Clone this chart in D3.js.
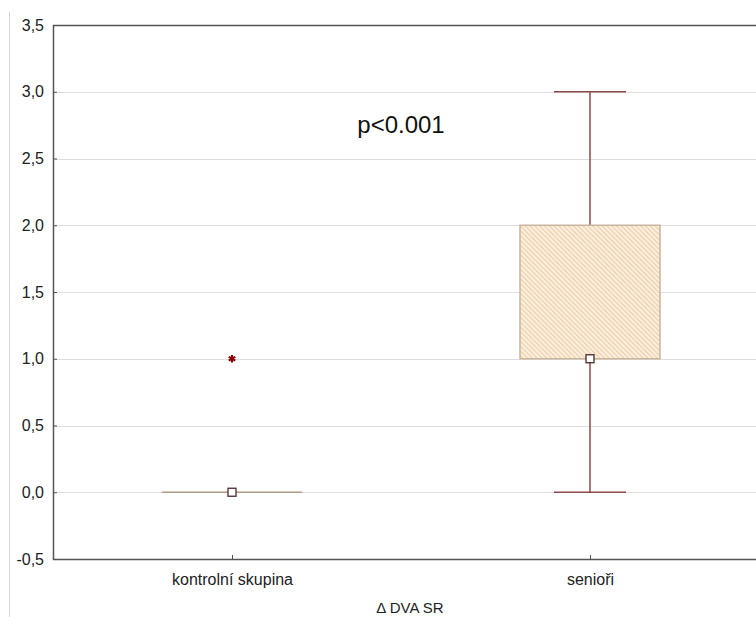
<!DOCTYPE html>
<html>
<head>
<meta charset="utf-8">
<script src="https://cdn.jsdelivr.net/npm/d3@7"></script>
<style>
  body { margin: 0; background: #fff; }
  svg { display: block; font-family: "Liberation Sans", Arial, sans-serif; }
</style>
</head>
<body>
<div id="chart"></div>
<script>
// data
var groups = ["kontrolní skupina", "senioři"];
var mins = [0, 0];
var q1s = [0, 1];
var medians = [0, 1];
var q3s = [0, 2];
var maxs = [0, 3];
var outliers = [[1], []];
var yTicks = [-0.5, 0, 0.5, 1, 1.5, 2, 2.5, 3, 3.5];
var note = "p<0.001";
var xTitle = "\u0394 DVA SR";

var width = 756, height = 617;
var plotL = 53, plotT = 25, plotB = 559, plotR = 769;

var svg = d3.select("#chart").append("svg")
    .attr("width", width)
    .attr("height", height);

var defs = svg.append("defs");
var pat = defs.append("pattern")
    .attr("id", "hatch")
    .attr("patternUnits", "userSpaceOnUse")
    .attr("width", 3.4).attr("height", 3.4)
    .attr("patternTransform", "rotate(-45)");
pat.append("rect").attr("width", 3.4).attr("height", 3.4).attr("fill", "#fcf0e0");
pat.append("rect").attr("width", 1.6).attr("height", 3.4).attr("fill", "#f0d6b6");

var x = d3.scalePoint().domain(groups).range([plotL, plotR]).padding(0.5);
var y = d3.scaleLinear().domain([-0.5, 3.5]).range([plotB, plotT]);

// faint frame line at the far left
svg.append("line")
    .attr("x1", 9.5).attr("x2", 9.5)
    .attr("y1", 12).attr("y2", height)
    .attr("stroke", "#d4d4d4");

// grid
svg.append("g").selectAll("line")
    .data(yTicks.slice(1, -1))
  .enter().append("line")
    .attr("x1", plotL).attr("x2", width)
    .attr("y1", function(d) { return Math.round(y(d)) + 0.5; })
    .attr("y2", function(d) { return Math.round(y(d)) + 0.5; })
    .attr("stroke", "#dedede")
    .attr("stroke-width", 1.2);

// axes
var yAxis = d3.axisLeft(y).tickValues(yTicks).tickSize(-4).tickPadding(9)
    .tickFormat(function(d) { return d.toFixed(1).replace(".", ","); });
var gy = svg.append("g").attr("transform", "translate(" + plotL + ",0)").call(yAxis);
gy.select(".domain").remove();
gy.selectAll("line").attr("stroke", "#555");
gy.selectAll("text").attr("font-size", 16).attr("fill", "#222")
    .attr("font-family", "'Liberation Sans', Arial, sans-serif");

var xAxis = d3.axisBottom(x).tickSize(-4).tickPadding(15);
var gx = svg.append("g").attr("transform", "translate(0," + plotB + ")").call(xAxis);
gx.select(".domain").remove();
gx.selectAll("line").attr("stroke", "#555");
gx.selectAll("text").attr("font-size", 16).attr("fill", "#222")
    .attr("font-family", "'Liberation Sans', Arial, sans-serif");

// frame: left, top, bottom
svg.append("path")
    .attr("d", "M" + width + "," + (plotT + 0.5) + "H" + (plotL + 0.5) + "V" + (plotB + 0.5) + "H" + width)
    .attr("fill", "none")
    .attr("stroke", "#555")
    .attr("stroke-width", 1.5);

// boxes
var boxW = 140, capW = 72;
var whisk = "#8b4a4a";
groups.forEach(function(g, i) {
    var cx = x(g);
    var gg = svg.append("g");
    // whiskers
    if (maxs[i] > q3s[i]) {
        gg.append("line").attr("x1", cx).attr("x2", cx)
            .attr("y1", y(q3s[i])).attr("y2", y(maxs[i]))
            .attr("stroke", whisk).attr("stroke-width", 1.5);
        gg.append("line").attr("x1", cx - capW / 2).attr("x2", cx + capW / 2)
            .attr("y1", y(maxs[i])).attr("y2", y(maxs[i]))
            .attr("stroke", whisk).attr("stroke-width", 1.5);
    }
    if (mins[i] < q1s[i]) {
        gg.append("line").attr("x1", cx).attr("x2", cx)
            .attr("y1", y(q1s[i])).attr("y2", y(mins[i]))
            .attr("stroke", whisk).attr("stroke-width", 1.5);
        gg.append("line").attr("x1", cx - capW / 2).attr("x2", cx + capW / 2)
            .attr("y1", y(mins[i])).attr("y2", y(mins[i]))
            .attr("stroke", whisk).attr("stroke-width", 1.5);
    }
    // box
    if (q3s[i] > q1s[i]) {
        gg.append("rect")
            .attr("x", cx - boxW / 2).attr("y", y(q3s[i]))
            .attr("width", boxW).attr("height", y(q1s[i]) - y(q3s[i]))
            .attr("fill", "url(#hatch)")
            .attr("stroke", "#c9b59c").attr("stroke-width", 1.5);
    } else {
        gg.append("line")
            .attr("x1", cx - boxW / 2).attr("x2", cx + boxW / 2)
            .attr("y1", y(q1s[i])).attr("y2", y(q1s[i]))
            .attr("stroke", "#b09a86").attr("stroke-width", 1.5);
    }
    // median
    gg.append("rect")
        .attr("x", cx - 4).attr("y", y(medians[i]) - 4)
        .attr("width", 8).attr("height", 8)
        .attr("fill", "#fff").attr("stroke", "#4a2a2a").attr("stroke-width", 1.3);
    // outliers
    outliers[i].forEach(function(v) {
        gg.append("path")
            .attr("d", d3.symbol().type(d3.symbolAsterisk).size(40)())
            .attr("transform", "translate(" + cx + "," + y(v) + ")")
            .attr("stroke", "#8b0000").attr("stroke-width", 2.2).attr("fill", "none");
    });
});

svg.append("text")
    .attr("x", 401).attr("y", 133)
    .attr("text-anchor", "middle")
    .attr("font-family", "'Liberation Sans', Arial, sans-serif")
    .attr("font-size", 24).attr("fill", "#111")
    .text(note);

svg.append("text")
    .attr("x", 410).attr("y", 613)
    .attr("text-anchor", "middle")
    .attr("font-family", "'Liberation Sans', Arial, sans-serif")
    .attr("font-size", 15).attr("fill", "#222")
    .text(xTitle);
</script>
</body>
</html>
